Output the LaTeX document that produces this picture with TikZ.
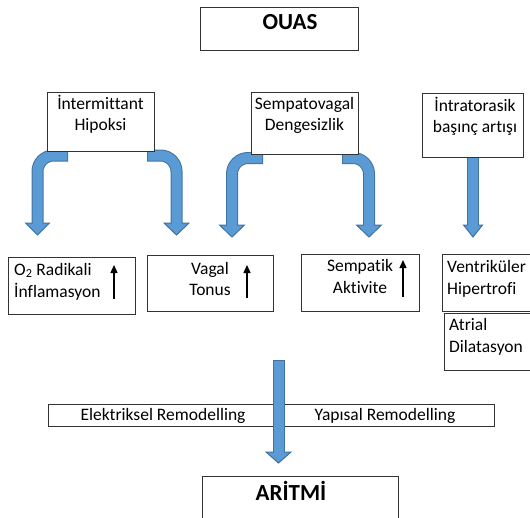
\documentclass[tikz,border=0pt]{standalone}
\usepackage{fontspec}
\setmainfont{Carlito}[Ligatures=NoCommon]
\usetikzlibrary{arrows.meta,calc}
\definecolor{afill}{HTML}{5B9BD5}
\definecolor{aline}{HTML}{41719C}
\newcommand\bx[5]{\node[box,minimum width={#4-#2},minimum height={#5-#3}] (#1) at ({(#2+#4)/2},{(#3+#5)/2}) {};}
% bent arrow: #1 name, #2 x start, #3 y of stub, #4 x of shaft, #5 y head base, #6 y tip, #7 head half width
\newcommand\bentarrow[7]{%
  \coordinate (#1s) at (#2,#3); \coordinate (#1c) at (#4,#3);
  \coordinate (#1b) at (#4,#5); \coordinate (#1t) at (#4,#6);
  \draw[aout] (#1s) -- (#1c) -- (#1b);
  \draw[ahead] ([xshift=-#7pt]#1b) -- ([xshift=#7pt]#1b) -- (#1t) -- cycle;
  \draw[ain] ($(#1s)!1pt!(#1c)$) -- (#1c) -- ([yshift=-1.5pt]#1b);
}
% straight arrow: #1 name, #2 x, #3 y start, #4 y head base, #5 y tip, #6 half width
\newcommand\straightarrow[6]{%
  \coordinate (#1s) at (#2,#3); \coordinate (#1b) at (#2,#4); \coordinate (#1t) at (#2,#5);
  \draw[aout] (#1s) -- (#1b);
  \draw[ahead] ([xshift=-#6pt]#1b) -- ([xshift=#6pt]#1b) -- (#1t) -- cycle;
  \draw[ain] ([yshift=-1pt]#1s) -- ([yshift=-1.5pt]#1b);
}
\begin{document}
\begin{tikzpicture}[x=1pt,y=-1pt,
  box/.style={draw=black!80, line width=0.9pt, fill=white, inner sep=0pt, rectangle},
  txt/.style={anchor=base, inner sep=0pt, font=\fontsize{17.5}{21}\selectfont},
  ttl/.style={anchor=base, inner sep=0pt, font=\fontsize{23}{27}\selectfont\bfseries},
  aout/.style={draw=aline, line width=12pt, rounded corners=16pt},
  ain/.style={draw=afill, line width=10pt, rounded corners=16pt},
  ahead/.style={fill=afill, draw=aline, line width=1pt, line join=miter},
  uparrow/.style={line width=1.3pt, -{Triangle[length=8pt,width=7pt]}}]
\useasboundingbox (0,0) rectangle (530,517);

% blue arrows (behind the boxes)
\bentarrow{hl}{68}{155.5}{37.5}{223}{235}{12}
\bentarrow{hr}{147}{155.5}{176.5}{223}{235}{12.5}
\bentarrow{sl}{263}{158}{232}{225}{237}{12.5}
\bentarrow{sr}{342}{158}{369}{225}{237}{12.5}
\straightarrow{ia}{473}{157}{225}{237}{9.5}

% boxes
\bx{ouas}{200}{7}{358}{50}
\bx{hip}{47}{92}{154}{151}
\bx{sem}{251}{92}{358}{154}
\bx{intr}{422}{93}{523}{157}
\bx{otwo}{8}{257}{135}{314}
\bx{vag}{147}{255}{273}{311}
\bx{symp}{301}{254}{419}{311}
\bx{vent}{442}{254}{540}{311}
\bx{atr}{444}{313}{540}{370}
\bx{rem}{48}{404}{494}{426}
\bx{arit}{202}{476}{398}{530}

% texts
\node[ttl] (ouasT) at (290,29) {OUAS};
\node[txt] (hipA) at (100.5,109) {İntermittant};
\node[txt] (hipB) at (100.5,130) {Hipoksi};
\node[txt] (semA) at (304.5,109) {Sempatovagal};
\node[txt] (semB) at (304.5,130) {Dengesizlik};
\node[txt] (intA) at (475,111) {İntratorasik};
\node[txt] (intB) at (475,132) {başınç artışı};
\node[txt,anchor=base west] (otA) at (14,275) {O\textsubscript{2} Radikali};
\node[txt,anchor=base west] (otB) at (14,297) {İnflamasyon};
\node[txt] (vagA) at (210,274) {Vagal};
\node[txt] (vagB) at (210,295) {Tonus};
\node[txt] (sympA) at (360,271) {Sempatik};
\node[txt] (sympB) at (360,293) {Aktivite};
\node[txt,anchor=base west] (ventA) at (447,272) {Ventriküler};
\node[txt,anchor=base west] (ventB) at (447,294) {Hipertrofi};
\node[txt,anchor=base west] (atrA) at (449,330) {Atrial};
\node[txt,anchor=base west] (atrB) at (449,352) {Dilatasyon};
\node[txt] (remA) at (163,420) {Elektriksel Remodelling};
\node[txt] (remB) at (385,420) {Yapısal Remodelling};
\node[ttl] (aritT) at (291,500) {ARİTMİ};

% small up arrows
\coordinate (u1a) at (114,299); \coordinate (u1b) at (114,265);
\coordinate (u2a) at (247,298); \coordinate (u2b) at (247,265);
\coordinate (u3a) at (403,297); \coordinate (u3b) at (403,260);
\draw[uparrow] (u1a) -- (u1b);
\draw[uparrow] (u2a) -- (u2b);
\draw[uparrow] (u3a) -- (u3b);

% big arrow over the remodelling box
\straightarrow{ba}{278.5}{360}{452}{463}{12.5}
\end{tikzpicture}
\end{document}
